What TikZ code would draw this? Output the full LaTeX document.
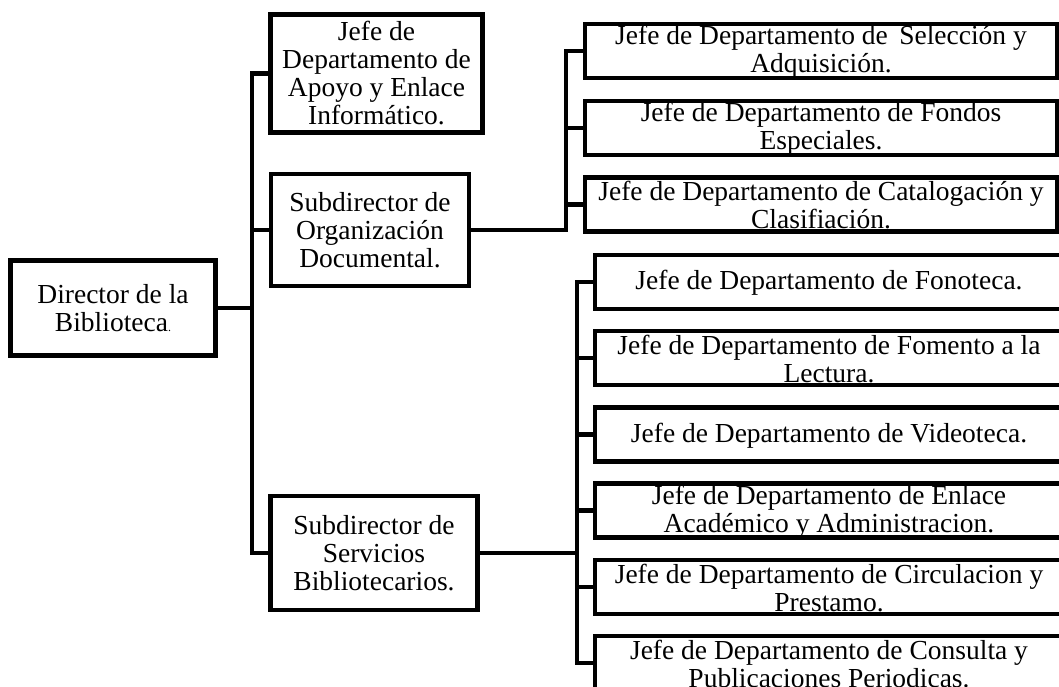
\documentclass[tikz,border=0pt]{standalone}
\usepackage{fontspec}
\setmainfont{Liberation Serif}
\usetikzlibrary{backgrounds}
\begin{document}
\begin{tikzpicture}[x=1pt,y=-1pt,
  txt/.style={inner sep=0pt,align=center,font=\fontsize{27.5}{28}\selectfont},
  box/.style={txt,draw,line width=4.5pt},
  sbox/.style={draw,line width=4.5pt,inner sep=0pt,minimum height=54pt},
  two/.style={txt,yshift=-1pt},
  one/.style={txt,yshift=-1pt},
  conn/.style={line width=4.5pt}]
\useasboundingbox (0,0) rectangle (1059,687);
\clip (0,0) rectangle (1059,687);
% level 0 and 1
\node[box,minimum width=205pt,minimum height=95pt] (dir) at (113,308) {Director de la\\Biblioteca{\fontsize{12}{12}\selectfont .}};
\node[box,minimum width=212pt,minimum height=118pt] (apoyo) at (376.5,73.5) {Jefe de\\Departamento de\\Apoyo y Enlace\\Informático.};
\node[box,minimum width=198pt,minimum height=112pt] (org) at (370,230) {Subdirector de\\Organización\\Documental.};
\node[box,minimum width=207pt,minimum height=114pt] (serv) at (374,553) {Subdirector de\\Servicios\\Bibliotecarios.};
% group 1 boxes
\node[sbox,minimum width=472pt] (a1) at (821,51) {};
\node[sbox,minimum width=472pt] (a2) at (821,128) {};
\node[sbox,minimum width=472pt] (a3) at (821,204.5) {};
% group 2 boxes
\node[sbox,minimum width=468pt] (b1) at (829,282) {};
\node[sbox,minimum width=468pt] (b2) at (829,358) {};
\node[sbox,minimum width=468pt] (b3) at (829,434.5) {};
\node[sbox,minimum width=468pt] (b4) at (829,510.5) {};
\node[sbox,minimum width=468pt] (b5) at (829,587) {};
\node[sbox,minimum width=468pt] (b6) at (829,663) {};
% texts of the department boxes, under the borders
\begin{scope}[on background layer]
\node[two] (a1t) at (a1) {Jefe de Departamento de~\,Selección y\\Adquisición.};
\node[two] (a2t) at (a2) {Jefe de Departamento de Fondos\\Especiales.};
\node[two] (a3t) at (a3) {Jefe de Departamento de Catalogación y\\Clasifiación.};
\node[one] (b1t) at (b1) {Jefe de Departamento de Fonoteca.};
\node[two] (b2t) at (b2) {Jefe de Departamento de Fomento a la\\Lectura.};
\node[one] (b3t) at (b3) {Jefe de Departamento de Videoteca.};
\node[two] (b4t) at (b4) {Jefe de Departamento de Enlace\\Académico y Administracion.};
\node[two] (b5t) at (b5) {Jefe de Departamento de Circulacion y\\Prestamo.};
\node[two] (b6t) at (b6) {Jefe de Departamento de Consulta y\\Publicaciones Periodicas.};
\end{scope}
% connectors
\coordinate (tr) at (252,0);
\coordinate (g1) at (566,0);
\coordinate (g2) at (577,0);
\draw[conn] (apoyo.west) -| (tr |- serv.west) -- (serv.west);
\draw[conn] (dir.east) -- (dir.east -| tr);
\draw[conn] (org.west) -- (org.west -| tr);
\draw[conn] (org.east) -- (org.east -| g1) |- (a1.west);
\draw[conn] (a2.west) -- (a2.west -| g1);
\draw[conn] (a3.west) -- (a3.west -| g1);
\draw[conn] (b1.west) -| (g2 |- b6.west) -- (b6.west);
\draw[conn] (serv.east) -- (serv.east -| g2);
\draw[conn] (b2.west) -- (b2.west -| g2);
\draw[conn] (b3.west) -- (b3.west -| g2);
\draw[conn] (b4.west) -- (b4.west -| g2);
\draw[conn] (b5.west) -- (b5.west -| g2);
\end{tikzpicture}
\end{document}
